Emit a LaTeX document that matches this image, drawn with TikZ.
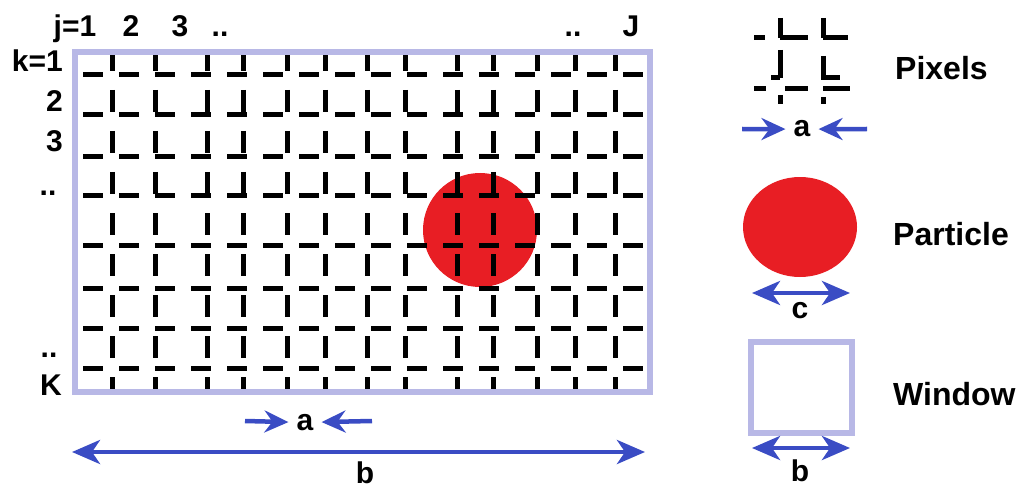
\documentclass[tikz,border=0pt]{standalone}
\usepackage{fontspec}
\setmainfont{Liberation Sans}
\usepackage{xcolor}
\usetikzlibrary{positioning,arrows.meta}
\definecolor{winblue}{RGB}{184,184,230}
\definecolor{arrblue}{RGB}{58,76,196}
\definecolor{partred}{RGB}{232,30,36}

\begin{document}
\begin{tikzpicture}[x=1pt, y=-1pt]
    % Styles
    \tikzstyle{axistext} = [font=\fontsize{30}{32}\selectfont\bfseries, inner sep=0pt, anchor=base]
    \tikzstyle{legendtext} = [font=\fontsize{32}{34}\selectfont\bfseries, inner sep=0pt, anchor=base west]
    \tikzstyle{window} = [draw=winblue, line width=5.5pt]
    \tikzstyle{pixline} = [draw=black, line width=5pt]
    \tikzstyle{hdash} = [pixline, dash pattern=on 20pt off 16pt]
    \tikzstyle{vdash} = [pixline, dash pattern=on 22pt off 19pt]
    \tikzstyle{particle} = [fill=partred]
    \tikzstyle{arrow} = [draw=arrblue, line width=4.5pt, -{Stealth[length=24pt,width=22pt,inset=8pt]}]
    \tikzstyle{dimarrow} = [draw=arrblue, line width=4.5pt, {Stealth[length=28pt,width=24pt,inset=8pt]}-{Stealth[length=28pt,width=24pt,inset=8pt]}]

    \useasboundingbox (0,0) rectangle (1024,489);

    % Particle under the pixel grid
    \fill[particle] (480,230) circle (57);

    % Pixel grid, J columns and K rows
    \foreach \yy [count=\i] in {75,115,157,195,245,288,328,368}
        \draw[hdash, dash phase=28pt] (75,\yy) -- (650,\yy);
    \foreach \xx [count=\j] in {112,155,207,243,287,325,367,405,457,493,537,575,615}
        \draw[vdash, dash phase=3pt] (\xx,52) -- (\xx,392);

    % Window
    \draw[window] (75,52) rectangle (650,392);

    % Indices
    \node (j1) [axistext] at (75,37) {j=1};
    \node (j2) [axistext] at (131,37) {2};
    \node (j3) [axistext] at (180,37) {3};
    \node (jdots) [axistext] at (220,37) {..};
    \node (jdotsr) [axistext] at (573,37) {..};
    \node (jJ) [axistext] at (631,37) {J};
    \node (k1) [axistext, anchor=base east] at (63,72) {k=1};
    \node (k2) [axistext, anchor=base east] at (63,112) {2};
    \node (k3) [axistext, anchor=base east] at (63,152) {3};
    \node (kdots) [axistext] at (48,195) {..};
    \node (kdotsb) [axistext] at (49,357) {..};
    \node (kK) [axistext] at (51,395) {K};

    % Sizes under the window
    \node (alab) [axistext] at (305,430) {a};
    \coordinate (aL) at (245,421);
    \coordinate (aR) at (372,421);
    \draw [arrow] (aL) -- ([xshift=-8pt]alab.west);
    \draw [arrow] (aR) -- ([xshift=8pt]alab.east);
    \node (blab) [axistext] at (365,483) {b};
    \coordinate (bL) at (72,452);
    \coordinate (bR) at (645,452);
    \draw [dimarrow] (bL) -- (bR);

    % Legend: pixels
    \draw[pixline] (754,38) -- (765,38) (780,38) -- (808,38) (823,38) -- (848,38);
    \draw[pixline] (754,89) -- (766,89) (785,89) -- (808,89) (823,89) -- (850,89);
    \draw[pixline] (771,78) -- (780,78) (823,78) -- (840,78);
    \draw[pixline] (780,18) -- (780,38) (780,50) -- (780,78) (780,95) -- (780,104);
    \draw[pixline] (823,18) -- (823,38) (823,56) -- (823,80) (823,97) -- (823,104);
    \node (pixtxt) [legendtext] at (895,80) {Pixels};
    \node (alab2) [axistext] at (802,137) {a};
    \coordinate (a2L) at (742,129);
    \coordinate (a2R) at (867,129);
    \draw [arrow] (a2L) -- ([xshift=-8pt]alab2.west);
    \draw [arrow] (a2R) -- ([xshift=8pt]alab2.east);

    % Legend: particle
    \fill[particle] (800,227) ellipse (57 and 50);
    \node (parttxt) [legendtext] at (893,245) {Particle};
    \node (clab) [axistext] at (800,318) {c};
    \coordinate (cL) at (752,293);
    \coordinate (cR) at (850,293);
    \draw [dimarrow] (cL) -- (cR);

    % Legend: window
    \draw[window] (751,342) rectangle (852,433);
    \node (wintxt) [legendtext] at (893,405) {Window};
    \node (blab2) [axistext] at (800,481) {b};
    \coordinate (b2L) at (752,448);
    \coordinate (b2R) at (850,448);
    \draw [dimarrow] (b2L) -- (b2R);

\end{tikzpicture}
\end{document}
